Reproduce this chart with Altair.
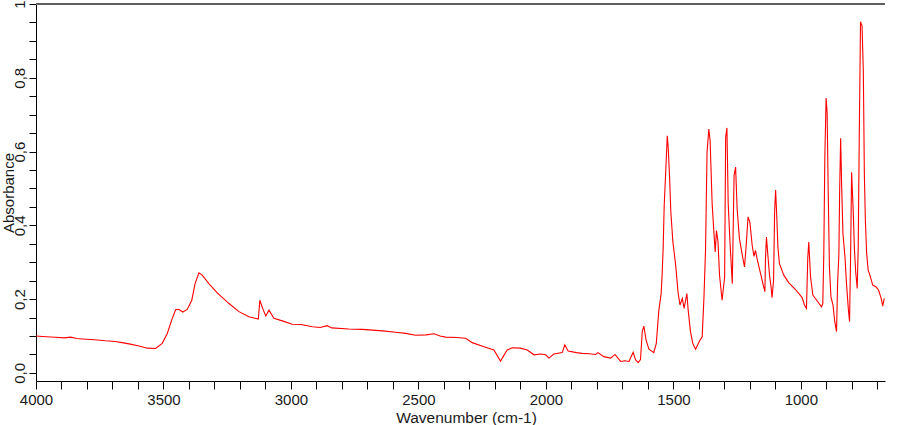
import altair as alt
import pandas as pd

wavenumber = [
    4000, 3960, 3923, 3890, 3864, 3840, 3818, 3770, 3727, 3690, 3662, 3630, 3596, 3563, 3531,
    3505, 3485, 3468, 3452, 3439, 3424, 3407, 3389, 3376, 3361, 3348, 3322, 3289, 3243, 3204,
    3165, 3128, 3122, 3113, 3099, 3086, 3067, 3034, 2995, 2960, 2916, 2885, 2858, 2840, 2773,
    2720, 2681, 2640, 2589, 2550, 2511, 2470, 2439, 2415, 2393, 2350, 2315, 2289, 2243, 2204,
    2178, 2152, 2132, 2100, 2073, 2047, 2020, 2001, 1988, 1969, 1936, 1926, 1913, 1880, 1858,
    1830, 1805, 1796, 1773, 1746, 1729, 1707, 1690, 1674, 1658, 1648, 1638, 1629, 1622, 1616,
    1607, 1596, 1577, 1567, 1557, 1548, 1544, 1540, 1536, 1531, 1524, 1520, 1515, 1510, 1502,
    1491, 1482, 1474, 1465, 1458, 1447, 1442, 1433, 1424, 1413, 1397, 1387, 1380, 1374, 1368,
    1361, 1356, 1348, 1342, 1336, 1331, 1325, 1319, 1309, 1299, 1295, 1290, 1285, 1278, 1269,
    1262, 1256, 1250, 1241, 1231, 1221, 1215, 1207, 1200, 1191, 1184, 1178, 1172, 1158, 1149,
    1141, 1139, 1135, 1130, 1123, 1117, 1113, 1107, 1103, 1099, 1095, 1090, 1084, 1067, 1047,
    1021, 995, 986, 978, 973, 969, 962, 953, 936, 919, 914, 910, 906, 901, 897,
    893, 888, 882, 874, 867, 860, 856, 851, 848, 844, 840, 835, 827, 821, 814,
    809, 805, 801, 795, 790, 785, 779, 775, 771, 766, 760, 755, 751, 747, 742,
    736, 731, 718, 705, 695, 685, 679, 673,
]
absorbance = [
    0.100, 0.098, 0.0965, 0.095, 0.097, 0.093, 0.092, 0.090, 0.087, 0.085, 0.082, 0.078, 0.073, 0.067, 0.066,
    0.080, 0.107, 0.143, 0.172, 0.172, 0.165, 0.172, 0.197, 0.242, 0.271, 0.265, 0.242, 0.217, 0.188, 0.166,
    0.152, 0.146, 0.197, 0.179, 0.154, 0.170, 0.148, 0.141, 0.132, 0.131, 0.125, 0.123, 0.128, 0.122, 0.119,
    0.118, 0.116, 0.114, 0.110, 0.107, 0.102, 0.103, 0.106, 0.100, 0.097, 0.096, 0.094, 0.082, 0.071, 0.062,
    0.032, 0.062, 0.068, 0.067, 0.062, 0.049, 0.051, 0.049, 0.040, 0.051, 0.055, 0.076, 0.059, 0.055, 0.053,
    0.052, 0.050, 0.055, 0.044, 0.040, 0.050, 0.031, 0.033, 0.031, 0.056, 0.035, 0.028, 0.036, 0.112, 0.127,
    0.089, 0.064, 0.055, 0.080, 0.170, 0.215, 0.269, 0.341, 0.454, 0.531, 0.643, 0.607, 0.531, 0.436, 0.355,
    0.292, 0.220, 0.184, 0.202, 0.175, 0.215, 0.170, 0.112, 0.080, 0.064, 0.087, 0.098, 0.206, 0.332, 0.598,
    0.661, 0.630, 0.459, 0.391, 0.328, 0.386, 0.355, 0.265, 0.197, 0.260, 0.639, 0.664, 0.459, 0.355, 0.242,
    0.535, 0.558, 0.445, 0.364, 0.324, 0.287, 0.341, 0.423, 0.409, 0.346, 0.316, 0.332, 0.310, 0.269, 0.242,
    0.220, 0.305, 0.368, 0.324, 0.265, 0.233, 0.204, 0.251, 0.436, 0.496, 0.432, 0.341, 0.296, 0.265, 0.244,
    0.226, 0.204, 0.184, 0.175, 0.310, 0.355, 0.260, 0.211, 0.195, 0.179, 0.188, 0.324, 0.585, 0.745, 0.706,
    0.504, 0.287, 0.206, 0.184, 0.139, 0.112, 0.242, 0.319, 0.486, 0.636, 0.508, 0.378, 0.314, 0.242, 0.175,
    0.139, 0.314, 0.544, 0.445, 0.337, 0.274, 0.229, 0.341, 0.639, 0.952, 0.941, 0.819, 0.540, 0.414, 0.324,
    0.278, 0.269, 0.238, 0.233, 0.224, 0.202, 0.181, 0.202,
]

x_ticks = list(range(700, 4001, 100))
y_ticks = [round(i * 0.05, 2) for i in range(0, 21)]

df = pd.DataFrame({"wavenumber": wavenumber, "absorbance": absorbance})

W, H = 849, 377
FONT = "Liberation Sans"
TXT = "#1a1a1a"

line = alt.Chart(df).mark_line(color="#ff0000", strokeWidth=1.1).encode(
    x=alt.X(
        "wavenumber:Q",
        scale=alt.Scale(domain=[670, 4000], reverse=True, nice=False, zero=False),
        axis=alt.Axis(
            values=x_ticks,
            labelExpr="datum.value % 500 == 0 ? format(datum.value, 'd') : ''",
            title="Wavenumber (cm-1)",
            grid=False,
            tickSize=8,
            tickColor="black",
            domainColor="black",
            labelFont=FONT,
            labelFontSize=15,
            labelColor=TXT,
            labelPadding=3,
            labelOverlap=False,
            labelFlush=False,
            titleFont=FONT,
            titleFontSize=15.5,
            titleFontWeight="normal",
            titleColor=TXT,
            titleX=430,
            titleY=41,
            titleBaseline="alphabetic",
        ),
    ),
    y=alt.Y(
        "absorbance:Q",
        scale=alt.Scale(domain=[-0.022, 1.0], nice=False, zero=False),
        axis=alt.Axis(
            values=y_ticks,
            labelExpr="abs(datum.value*5 - round(datum.value*5)) < 0.001 ? (datum.value > 0.999 ? '1' : replace(format(datum.value, '.1f'), '.', ',')) : ''",
            title="Absorbance",
            grid=False,
            tickSize=7,
            tickColor="black",
            domainColor="black",
            labelAngle=270,
            labelAlign="center",
            labelBaseline="bottom",
            labelFont=FONT,
            labelFontSize=15,
            labelColor=TXT,
            labelPadding=2,
            labelOverlap=False,
            labelFlush=False,
            titleFont=FONT,
            titleFontSize=15,
            titleFontWeight="normal",
            titleColor=TXT,
            titleX=-23,
            titleBaseline="alphabetic",
        ),
    ),
)

border_df = pd.DataFrame({"k": [0]})
top_border = alt.Chart(border_df).mark_rule(color="#5f5f5f", strokeWidth=2).encode(
    x=alt.value(0), x2=alt.value(W), y=alt.value(0)
)

chart = (
    alt.layer(line, top_border)
    .properties(
        width=W,
        height=H,
        autosize=alt.AutoSizeParams(type="none"),
        padding={"left": 36, "top": 4, "right": 15, "bottom": 44},
        background="white",
    )
    .configure_view(stroke=None)
)

chart.save("out.html", embed_options={"renderer": "svg", "actions": False})
